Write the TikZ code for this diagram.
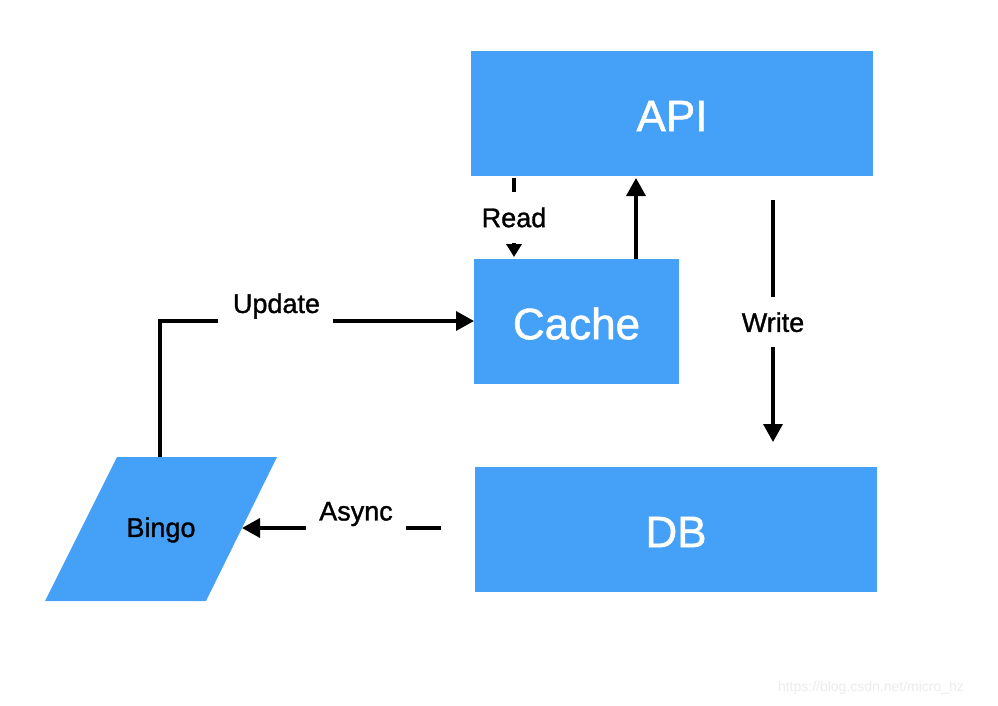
\documentclass[tikz,border=0pt]{standalone}
\usepackage{fontspec}
\setmainfont[FakeBold=1.2]{Liberation Sans}
\usetikzlibrary{arrows.meta}
\definecolor{boxblue}{RGB}{69,161,248}
\definecolor{wm}{RGB}{236,236,236}
\newfontfamily\wmfont{Liberation Sans}
\begin{document}
\begin{tikzpicture}[x=1pt,y=-1pt,
  bluebox/.style={fill=boxblue, draw=none, inner sep=0pt, text=white,
    font=\fontsize{44}{50}\selectfont},
  lbl/.style={font=\fontsize{27}{32}\selectfont, text=black, inner sep=0pt},
  gap/.style={fill=white, inner sep=0pt},
  conn/.style={line width=3.5pt, -{Triangle[length=18pt,width=19pt]}},
  connsmall/.style={line width=3.5pt, -{Triangle[length=13pt,width=15pt]}}]
\useasboundingbox (0,0) rectangle (998,706);
\fill[white] (0,0) rectangle (998,706);
% boxes
\node[bluebox, minimum width=402pt, minimum height=125pt] (api) at (672,113.5) {};
\node[text=white, font=\fontsize{44}{50}\selectfont, inner sep=0pt] (apitext) at (672,116) {API};
\node[bluebox, minimum width=205pt, minimum height=125pt] (cache) at (576.5,321.5) {};
\node[text=white, font=\fontsize{44}{50}\selectfont, inner sep=0pt] (cachetext) at (576.5,323.5) {Cache};
\node[bluebox, minimum width=402pt, minimum height=125pt] (db) at (676,529.5) {};
\node[text=white, font=\fontsize{44}{50}\selectfont, inner sep=0pt] (dbtext) at (676,532) {DB};
% Bingo parallelogram
\fill[boxblue] (117,457) -- (277,457) -- (206,601) -- (45,601) -- cycle;
\node[lbl] (bingo) at (161,530) {Bingo};
\coordinate (bingotop) at (160,457);
\coordinate (bingoright) at (242,528);
% Read
\coordinate (readstart) at (514,178);
\coordinate (readend) at (514,257);
\draw[connsmall] (readstart) -- (readend)
  node[gap, lbl, midway, minimum height=51pt] (readlbl) {Read};
% Cache -> API
\coordinate (upstart) at (636,259);
\coordinate (upend) at (636,178);
\draw[conn] (upstart) -- (upend);
% Write
\coordinate (wstart) at (773,200);
\coordinate (wend) at (773,442);
\draw[conn] (wstart) -- (wend)
  node[gap, lbl, pos=0.505, minimum height=50pt, minimum width=70pt] (writelbl) {Write};
% Update
\coordinate (updend) at (474,321);
\draw[conn] (bingotop) |- (updend)
  node[gap, pos=0.684, minimum width=115pt, minimum height=10pt] (updgap) {};
\node[lbl] (updlbl) at (276.5,306) {Update};
% Async
\coordinate (astart) at (441,528);
\draw[conn] (astart) -- (bingoright)
  node[gap, pos=0.427, minimum width=100pt, minimum height=10pt] (agap) {};
\node[lbl] (alabel) at (356,514) {Async};
% watermark
\node[text=wm, font=\wmfont\fontsize{14}{16}\selectfont, inner sep=0pt] (wmark) at (871,688) {https://blog.csdn.net/micro\_hz};
\end{tikzpicture}
\end{document}
